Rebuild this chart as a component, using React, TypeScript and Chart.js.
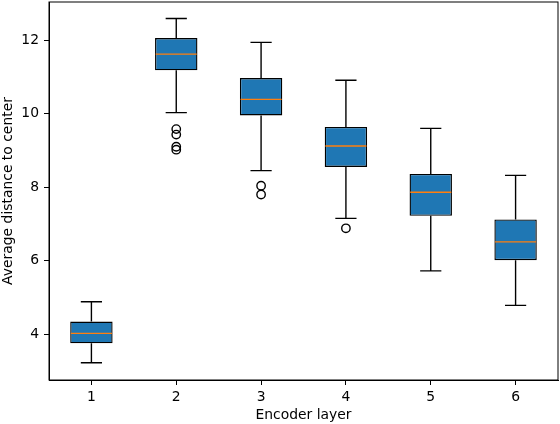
import React, { useEffect, useRef } from "react";
import { Chart, registerables } from "chart.js";

Chart.register(...registerables);

const categories = [1, 2, 3, 4, 5, 6];
const q1 = [3.75, 11.18, 9.95, 8.55, 7.22, 6.01];
const medians = [4.02, 11.62, 10.39, 9.12, 7.86, 6.51];
const q3 = [4.34, 12.06, 10.97, 9.64, 8.36, 7.12];
const whiskerLow = [3.22, 10.03, 8.45, 7.15, 5.72, 4.78];
const whiskerHigh = [4.88, 12.59, 11.94, 10.91, 9.6, 8.32];
const outliers: number[][] = [[], [9.58, 9.43, 9.1, 9.02], [8.04, 7.8], [6.88], [], []];
const yTicks = [4, 6, 8, 10, 12];

const FONT = "'DejaVu Sans', sans-serif";
const FS = 13.9;
const LW = 1.39;
const BOX_FILL = "#1f77b4";
const MEDIAN = "#ff7f0e";

const boxPlugin = {
  id: "boxExtras",
  afterDatasetsDraw(chart: any) {
    const { ctx, scales } = chart;
    const xs = scales.x;
    const ys = scales.y;
    const meta = chart.getDatasetMeta(0);
    ctx.save();
    categories.forEach((c, i) => {
      const bar = meta.data[i];
      const half = bar ? bar.width / 2 : 21;
      const cx = xs.getPixelForValue(c);
      const capHalf = half / 2;
      ctx.strokeStyle = "#000";
      ctx.lineWidth = LW;
      ctx.beginPath();
      ctx.moveTo(cx, ys.getPixelForValue(q3[i]));
      ctx.lineTo(cx, ys.getPixelForValue(whiskerHigh[i]));
      ctx.moveTo(cx, ys.getPixelForValue(q1[i]));
      ctx.lineTo(cx, ys.getPixelForValue(whiskerLow[i]));
      ctx.moveTo(cx - capHalf, ys.getPixelForValue(whiskerHigh[i]));
      ctx.lineTo(cx + capHalf, ys.getPixelForValue(whiskerHigh[i]));
      ctx.moveTo(cx - capHalf, ys.getPixelForValue(whiskerLow[i]));
      ctx.lineTo(cx + capHalf, ys.getPixelForValue(whiskerLow[i]));
      ctx.stroke();
      ctx.strokeStyle = MEDIAN;
      ctx.lineWidth = LW;
      ctx.beginPath();
      ctx.moveTo(cx - half + 0.7, ys.getPixelForValue(medians[i]));
      ctx.lineTo(cx + half - 0.7, ys.getPixelForValue(medians[i]));
      ctx.stroke();
    });
    ctx.restore();
  },
  afterDraw(chart: any) {
    const { ctx, chartArea } = chart;
    ctx.save();
    ctx.strokeStyle = "#000";
    ctx.lineWidth = 1;
    ctx.strokeRect(chartArea.left, chartArea.top, chartArea.right - chartArea.left, chartArea.bottom - chartArea.top);
    ctx.restore();
  },
};

export default function App() {
  const ref = useRef<HTMLCanvasElement | null>(null);
  useEffect(() => {
    if (!ref.current) return;
    const outlierPoints: { x: number; y: number }[] = [];
    outliers.forEach((arr, i) => arr.forEach((v) => outlierPoints.push({ x: categories[i], y: v })));
    const chart = new Chart(ref.current, {
      type: "bar",
      data: {
        datasets: [
          {
            type: "bar",
            data: categories.map((c, i) => ({ x: c, y: [q1[i], q3[i]] })) as any,
            backgroundColor: BOX_FILL,
            borderColor: "#000",
            borderWidth: LW,
            borderSkipped: false,
            barPercentage: 0.5,
            categoryPercentage: 1.0,
          },
          {
            type: "scatter",
            data: outlierPoints as any,
            pointStyle: "circle",
            pointRadius: 4.2,
            pointBackgroundColor: "rgba(255,255,255,0)",
            pointBorderColor: "#000",
            pointBorderWidth: LW,
            showLine: false,
          } as any,
        ],
      },
      options: {
        responsive: false,
        animation: false,
        layout: { autoPadding: false, padding: { top: 2, right: 2, left: 0, bottom: 0 } },
        plugins: { legend: { display: false }, tooltip: { enabled: false } },
        scales: {
          x: {
            type: "linear",
            min: 0.5,
            max: 6.5,
            offset: false,
            afterBuildTicks: (s: any) => {
              s.ticks = categories.map((v) => ({ value: v }));
            },
            afterFit: (s: any) => {
              s.height = 44;
              s.paddingLeft = 0;
              s.paddingRight = 0;
              s.paddingTop = 0;
              s.paddingBottom = 0;
            },
            grid: { display: true, offset: false, drawOnChartArea: false, drawTicks: true, tickLength: 5, tickWidth: 1, color: "#000" },
            border: { display: true, color: "#000", width: 1 },
            ticks: { color: "#000", font: { family: FONT, size: FS }, padding: 4, maxRotation: 0, callback: (v: any) => String(v) },
            title: { display: true, text: "Encoder layer", color: "#000", font: { family: FONT, size: FS }, padding: { top: 0, bottom: 0.5 } },
          },
          y: {
            type: "linear",
            min: 2.75,
            max: 13.04,
            afterBuildTicks: (s: any) => {
              s.ticks = yTicks.map((v) => ({ value: v }));
            },
            afterFit: (s: any) => {
              s.width = 49;
              s.paddingLeft = 0;
              s.paddingRight = 0;
              s.paddingTop = 0;
              s.paddingBottom = 0;
            },
            grid: { display: true, offset: false, drawOnChartArea: false, drawTicks: true, tickLength: 5, tickWidth: 1, color: "#000" },
            border: { display: true, color: "#000", width: 1 },
            ticks: { color: "#000", font: { family: FONT, size: FS }, padding: 5, callback: (v: any) => String(v) },
            title: { display: true, text: "Average distance to center", color: "#000", font: { family: FONT, size: FS }, padding: { top: 0, bottom: 0 } },
          },
        },
      },
      plugins: [boxPlugin],
    });
    return () => chart.destroy();
  }, []);
  return (
    <div style={{ position: "fixed", left: 0, top: 0, width: 560, height: 424, background: "#fff" }}>
      <canvas ref={ref} width={560} height={424} style={{ width: 560, height: 424, display: "block" }} />
    </div>
  );
}
